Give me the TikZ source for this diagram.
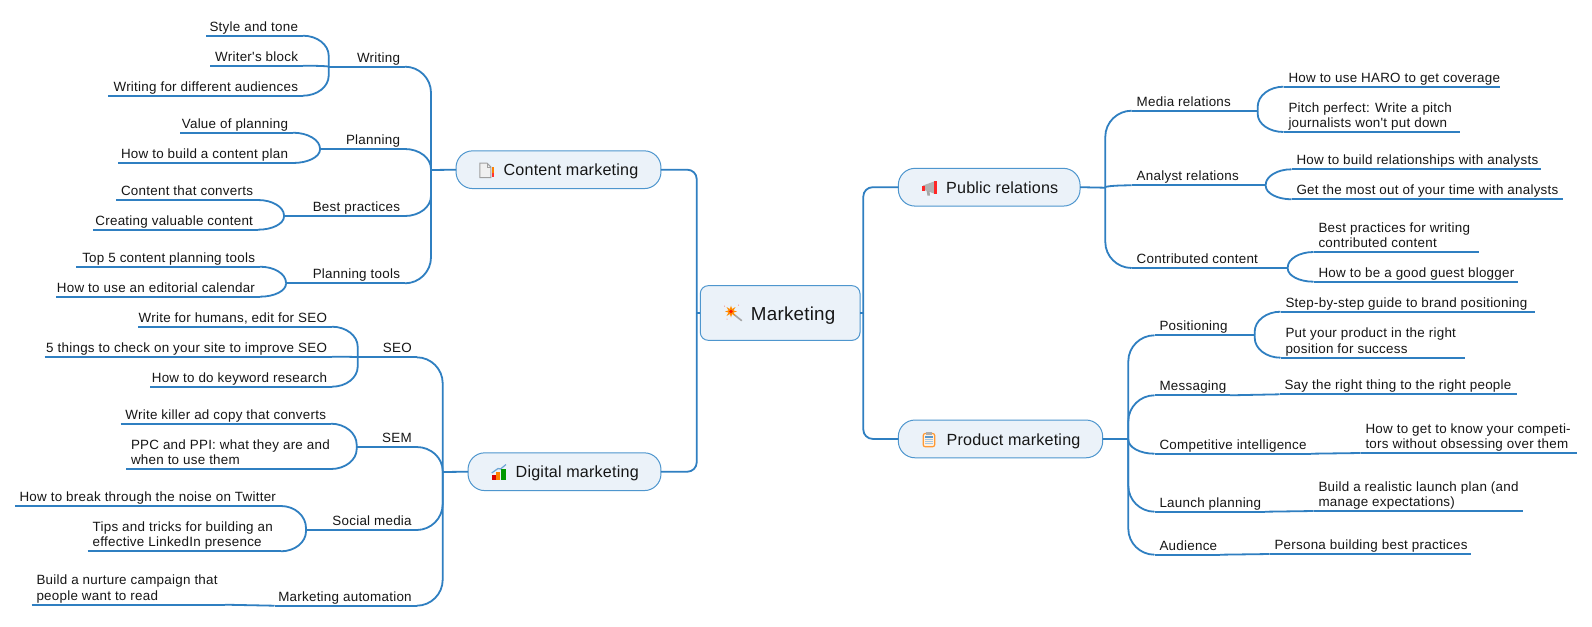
\documentclass[tikz,border=0pt]{standalone}
\usepackage{fontspec}
\setmainfont{Liberation Sans}
\newfontfamily\mapfont[LetterSpace=1.2]{Liberation Sans}
\newfontfamily\leaffont[LetterSpace=1.9]{Liberation Sans}
\usetikzlibrary{calc}
\definecolor{linkc}{HTML}{2F7FC1}
\definecolor{edgec}{HTML}{4E96CE}
\definecolor{boxc}{HTML}{EBF2F9}
\definecolor{inkc}{HTML}{161616}
\tikzset{
  conn/.style={draw=linkc,line width=1.35pt},
  leaf/.style={anchor=south west,inner sep=0pt,outer sep=0pt,text=inkc},
  topicbox/.style={draw=edgec,fill=boxc,line width=.75pt,rounded corners=12.5pt,inner sep=0pt,outer sep=0pt,minimum height=28.3pt,text=inkc,text height=9.4pt,text depth=0pt,font=\mapfont\fontsize{12.1pt}{14pt}\selectfont},
  rootbox/.style={draw=edgec,fill=boxc,line width=.75pt,rounded corners=6pt,inner sep=0pt,outer sep=0pt,minimum width=119.8pt,minimum height=41pt,text=inkc,text height=11.6pt,text depth=0pt,font=\mapfont\fontsize{14.1pt}{17pt}\selectfont}
}
\newcommand\leafL[5]{% name, x0, x1, y, text: set from the left
  \pgfmathsetlengthmacro\nodew{(#3-#2)*0.75pt}
  \node[leaf,minimum width=\nodew] (#1) at (#2,#4) {\parbox[b]{\nodew}{\raggedright\leftskip=3.75pt\leaffont\fontsize{10.05pt}{11.4pt}\selectfont #5\rule[-3.5pt]{0pt}{1pt}}};
  \draw[conn] (#1.south west) -- (#1.south east);
}
\newcommand\leafR[5]{% name, x0, x1, y, text: set from the right
  \pgfmathsetlengthmacro\nodew{(#3-#2)*0.75pt}
  \node[leaf,minimum width=\nodew] (#1) at (#2,#4) {\parbox[b]{\nodew}{\raggedleft\rightskip=3.75pt\leaffont\fontsize{10.05pt}{11.4pt}\selectfont #5\rule[-3.5pt]{0pt}{1pt}}};
  \draw[conn] (#1.south west) -- (#1.south east);
}
\newcommand\brfork[3]{% anchor, knee, vertical reach of the bend in px
  \coordinate (tmpC) at (#1 -| #2);
  \coordinate (tmpB) at ($(tmpC)!#3*0.75pt!(#2)$);
  \draw[conn] (#1) .. controls ($(#1)!.55!(tmpC)$) and ($(tmpB)!.55!(tmpC)$) .. (tmpB) -- (#2);
}
\begin{document}
\begin{tikzpicture}[x=0.75pt,y=-0.75pt]
\path[fill=white,use as bounding box] (0,0) rectangle (1592,626);

% root and main topics
\node[rootbox] (root) at (780.15,313) {\hspace*{19.5pt}Marketing};
\node[topicbox,minimum width=153.7pt] (content) at (558.5,169.7) {\hspace*{18.7pt}Content marketing};
\node[topicbox,minimum width=144.7pt] (digital) at (564.5,471.7) {\hspace*{19.1pt}Digital marketing};
\node[topicbox,minimum width=136.3pt] (public) at (989.2,187.2) {\hspace*{19.5pt}Public relations};
\node[topicbox,minimum width=153.3pt] (product) at (1000.5,438.9) {\hspace*{19.5pt}Product marketing};

\coordinate (kl) at (696.7,313);
\coordinate (kr) at (863.3,313);
\draw[conn,rounded corners=7pt] (content.east) -| (kl);
\draw[conn,rounded corners=7pt] (digital.east) -| (kl);
\draw[conn] (root.west) -- (kl);
\draw[conn,rounded corners=7pt] (public.west) -| (kr);
\draw[conn,rounded corners=7pt] (product.west) -| (kr);
\draw[conn] (root.east) -- (kr);

% Content marketing
\coordinate (kc) at (431,170);
\draw[conn] (content.west) -- (kc);
\leafR{writing}{352}{405}{66.7}{Writing}
\leafR{planning}{343.5}{405}{149}{Planning}
\leafR{best}{307}{405}{216}{Best practices}
\leafR{tools}{309}{405}{283.3}{Planning tools}
\brfork{writing.south east}{kc}{26}
\brfork{planning.south east}{kc}{20}
\brfork{best.south east}{kc}{20}
\brfork{tools.south east}{kc}{26}

\coordinate (kw) at (328.7,66.7);
\draw[conn] (writing.south west) -- (kw);
\leafR{w1}{206}{303}{35.7}{Style and tone}
\leafR{w2}{210}{303}{65.7}{Writer's block}
\leafR{w3}{108}{303}{95.7}{Writing for different audiences}
\brfork{w1.south east}{kw}{20}
\brfork{w2.south east}{kw}{1}
\brfork{w3.south east}{kw}{20}

\coordinate (kpl) at (320,149);
\draw[conn] (planning.south west) -- (kpl);
\leafR{p1}{180}{293}{132.7}{Value of planning}
\leafR{p2}{118}{293}{163}{How to build a content plan}
\brfork{p1.south east}{kpl}{16}
\brfork{p2.south east}{kpl}{13.5}

\coordinate (kb) at (284,216);
\draw[conn] (best.south west) -- (kb);
\leafR{b1}{116}{258}{200}{Content that converts}
\leafR{b2}{93}{258}{229.7}{Creating valuable content}
\brfork{b1.south east}{kb}{15.5}
\brfork{b2.south east}{kb}{13.2}

\coordinate (kt) at (286,283.3);
\draw[conn] (tools.south west) -- (kt);
\leafR{t1}{76}{260}{266.7}{Top 5 content planning tools}
\leafR{t2}{56}{260}{296.7}{How to use an editorial calendar}
\brfork{t1.south east}{kt}{16}
\brfork{t2.south east}{kt}{13}

% Digital marketing
\coordinate (kd) at (442.7,472);
\draw[conn] (digital.west) -- (kd);
\leafR{seo}{381.5}{416.7}{357.3}{SEO}
\leafR{sem}{380}{416.7}{447}{SEM}
\leafR{social}{330}{416.7}{530}{Social media}
\leafR{auto}{274.5}{416.7}{605.7}{Marketing automation}
\brfork{seo.south east}{kd}{26}
\brfork{sem.south east}{kd}{24}
\brfork{social.south east}{kd}{26}
\brfork{auto.south east}{kd}{26}

\coordinate (kseo) at (357.7,357.3);
\draw[conn] (seo.south west) -- (kseo);
\leafR{s1}{138}{332}{326.7}{Write for humans, edit for SEO}
\leafR{s2}{44.5}{332}{356.7}{5 things to check on your site to improve SEO}
\leafR{s3}{150}{332}{386.7}{How to do keyword research}
\brfork{s1.south east}{kseo}{20}
\brfork{s2.south east}{kseo}{.5}
\brfork{s3.south east}{kseo}{20}

\coordinate (ksem) at (356.7,447);
\draw[conn] (sem.south west) -- (ksem);
\leafR{m1}{120.5}{331}{423.7}{Write killer ad copy that converts}
\leafL{m2}{126}{331}{469}{PPC and PPI: what they are and\\when to use them}
\brfork{m1.south east}{ksem}{21}
\brfork{m2.south east}{ksem}{20}

\coordinate (ksoc) at (306,530);
\draw[conn] (social.south west) -- (ksoc);
\leafR{o1}{15}{281}{506}{How to break through the noise on Twitter}
\leafL{o2}{87.7}{281}{551.3}{Tips and tricks for building an\\effective LinkedIn presence}
\brfork{o1.south east}{ksoc}{22}
\brfork{o2.south east}{ksoc}{20}

\leafL{a1}{31.5}{225}{604.7}{Build a nurture campaign that\\people want to read}
\draw[conn] (a1.south east) -- (auto.south west);

% Public relations
\coordinate (kp) at (1105.3,187.7);
\draw[conn] (public.east) -- (kp);
\leafL{media}{1131.7}{1233}{110.7}{Media relations}
\leafL{analyst}{1131.7}{1241.5}{185.3}{Analyst relations}
\leafL{contrib}{1131.7}{1264.5}{268}{Contributed content}
\brfork{media.south west}{kp}{26}
\brfork{analyst.south west}{kp}{2}
\brfork{contrib.south west}{kp}{26}

\coordinate (kme) at (1257.7,110.7);
\draw[conn] (media.south east) -- (kme);
\leafL{e1}{1283.5}{1500}{86.7}{How to use HARO to get coverage}
\leafL{e2}{1283.5}{1459.5}{132}{Pitch perfect: Write a pitch\\journalists won't put down}
\brfork{e1.south west}{kme}{20}
\brfork{e2.south west}{kme}{18}

\coordinate (kan) at (1265.7,185.3);
\draw[conn] (analyst.south east) -- (kan);
\leafL{n1}{1291.5}{1541}{169.3}{How to build relationships with analysts}
\leafL{n2}{1291.5}{1562.5}{199.3}{Get the most out of your time with analysts}
\brfork{n1.south west}{kan}{15.5}
\brfork{n2.south west}{kan}{13.5}

\coordinate (kco) at (1287.7,268);
\draw[conn] (contrib.south east) -- (kco);
\leafL{c1}{1313.5}{1479}{252}{Best practices for writing\\contributed content}
\leafL{c2}{1313.5}{1518}{281.7}{How to be a good guest blogger}
\brfork{c1.south west}{kco}{15.5}
\brfork{c2.south west}{kco}{13.3}

% Product marketing
\coordinate (kq) at (1128.3,439);
\draw[conn] (product.east) -- (kq);
\leafL{pos}{1154.5}{1232}{335.3}{Positioning}
\leafL{msg}{1154.5}{1230}{395.3}{Messaging}
\leafL{comp}{1154.5}{1311}{453.7}{Competitive intelligence}
\leafL{launch}{1154.5}{1265}{511.7}{Launch planning}
\leafL{aud}{1154.5}{1220}{554.7}{Audience}
\brfork{pos.south west}{kq}{26}
\brfork{msg.south west}{kq}{26}
\brfork{comp.south west}{kq}{14}
\brfork{launch.south west}{kq}{26}
\brfork{aud.south west}{kq}{26}

\coordinate (kpos) at (1254.7,335.3);
\draw[conn] (pos.south east) -- (kpos);
\leafL{q1}{1280.5}{1535}{311.7}{Step-by-step guide to brand positioning}
\leafL{q2}{1280.5}{1465}{357.7}{Put your product in the right\\position for success}
\brfork{q1.south west}{kpos}{20}
\brfork{q2.south west}{kpos}{20}

\leafL{msg1}{1279.5}{1517}{394.3}{Say the right thing to the right people}
\draw[conn] (msg.south east) -- (msg1.south west);
\leafL{comp1}{1360.5}{1577}{453}{How to get to know your competi-\\tors without obsessing over them}
\draw[conn] (comp.south east) -- (comp1.south west);
\leafL{launch1}{1313.5}{1523}{511}{Build a realistic launch plan (and\\manage expectations)}
\draw[conn] (launch.south east) -- (launch1.south west);
\leafL{aud1}{1269.5}{1471}{554}{Persona building best practices}
\draw[conn] (aud.south east) -- (aud1.south west);

% icons
% wand
\draw[line width=1.2pt,color=gray!70,line cap=round] (734,314.5) -- (741.5,320.5);
\fill[orange!90!yellow] (731,305.5) -- (732.1,309) -- (735.5,307) -- (733.5,310.4) -- (737,311.5) -- (733.5,312.6) -- (735.5,316) -- (732.1,314) -- (731,317.5) -- (729.9,314) -- (726.5,316) -- (728.5,312.6) -- (725,311.5) -- (728.5,310.4) -- (726.5,307) -- (729.9,309) -- cycle;
\fill[red!80!orange] (731,311.5) circle (1.8);
\fill[red!60] (738.5,305) circle (.5) (724.5,306) circle (.5) (727,319) circle (.5);
% document
\draw[fill=gray!12,draw=gray!75,line width=.75pt] (479.8,163) -- (487,163) -- (490.8,167) -- (490.8,177.5) -- (479.8,177.5) -- cycle;
\draw[draw=gray!75,line width=.5pt] (487,163) -- (487,167) -- (490.8,167);
\fill[orange] (492.3,167) rectangle (494,173);
\fill[red!80] (492.3,173) rectangle (494,177);
% chart
\fill[red!85!black] (491.7,475) rectangle (495.6,480.3);
\fill[orange] (496.4,472) rectangle (500.4,480.3);
\fill[green!60!black] (501.2,469) rectangle (505.8,480.3);
\draw[color=linkc!70,line width=.9pt] (491.7,473) -- (498,468.5) -- (500.5,469) -- (506,464.5);
% megaphone
\fill[gray!60] (923,185.5) -- (934,181.5) -- (934,193.5) -- (923,189.5) -- cycle;
\fill[red!85] (921.7,185.5) rectangle (925,190.5);
\fill[red!85] (934,180.7) rectangle (937,194);
\fill[gray!70] (926.5,190.5) -- (929.5,191.5) -- (930,195.6) -- (927.5,195.6) -- cycle;
% clipboard
\draw[fill=orange!12,draw=orange!80,line width=.9pt,rounded corners=1.5pt] (923.2,433.5) rectangle (934.7,446.7);
\fill[gray!65] (926,431.7) rectangle (932,434.7);
\fill[linkc!80] (925.2,436.3) rectangle (932.8,437.8);
\fill[linkc!45] (925.2,439) rectangle (932.8,439.8) (925.2,441) rectangle (932.8,441.8) (925.2,443) rectangle (932.8,443.8);
\end{tikzpicture}
\end{document}
